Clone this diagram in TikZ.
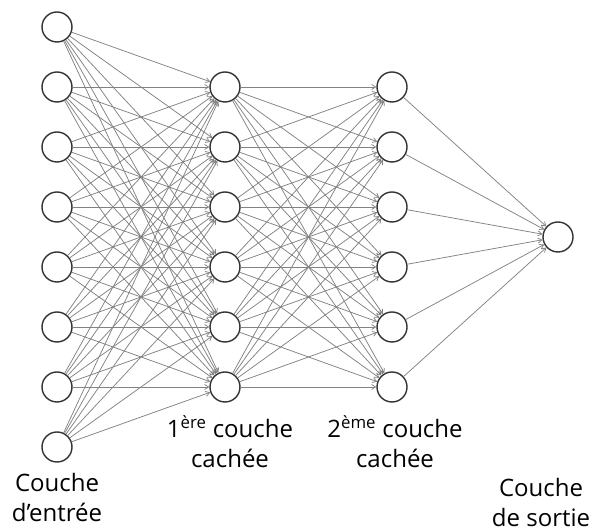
\documentclass[tikz,border=0pt]{standalone}
\usepackage{fontspec}
\setmainfont{Open Sans}
\usetikzlibrary{arrows.meta}
\definecolor{edgecol}{RGB}{130,130,130}
\definecolor{nodecol}{RGB}{50,50,50}
\begin{document}
\begin{tikzpicture}[x=1pt,y=1pt,
  neuron/.style={circle,draw=nodecol,line width=1.4pt,fill=white,minimum size=30pt,inner sep=0pt},
  conn/.style={draw=edgecol,line width=0.75pt,-{Straight Barb[length=4pt,width=5pt]}},
  lab/.style={align=center,font=\fontsize{24}{30}\selectfont,text=black}]
\useasboundingbox (0,0) rectangle (597,532);
\foreach \i in {1,...,8} {
  \node[neuron] (I\i) at (57,{532-27-(\i-1)*60}) {};
}
\foreach \i in {1,...,6} {
  \node[neuron] (H\i) at (225,{532-87-(\i-1)*60}) {};
  \node[neuron] (G\i) at (392,{532-87-(\i-1)*60}) {};
}
\node[neuron] (O) at (558,{532-237}) {};
\foreach \i in {1,...,8} {
  \foreach \j in {1,...,6} {
    \draw[conn] (I\i) -- (H\j);
  }
}
\foreach \i in {1,...,6} {
  \foreach \j in {1,...,6} {
    \draw[conn] (H\i) -- (G\j);
  }
  \draw[conn] (G\i) -- (O);
}
\node[lab] (Lin) at (57,34) {Couche\\d’entrée};
\node[lab] (Lh1) at (230,90) {1\textsuperscript{ère} couche\\cachée};
\node[lab] (Lh2) at (395,90) {2\textsuperscript{ème} couche\\cachée};
\node[lab] (Lout) at (541,29) {Couche\\de sortie};
\end{tikzpicture}
\end{document}
